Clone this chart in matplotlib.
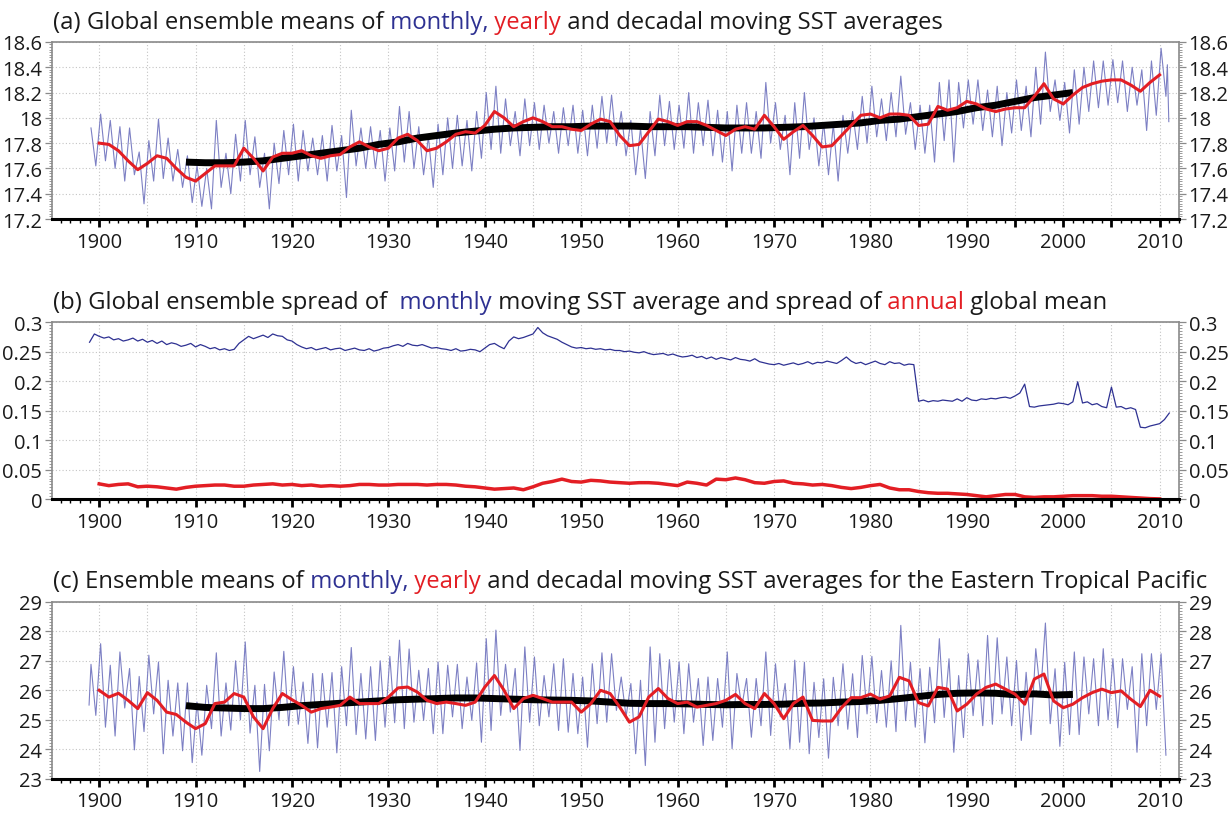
import numpy as np
import matplotlib.pyplot as plt
from matplotlib.ticker import MultipleLocator, FuncFormatter

plt.rcParams["font.family"] = ["Open Sans", "DejaVu Sans"]

# monthly series: one seasonal high (early in the year) and low (late) per year
years = np.arange(1899, 2011)
red_years = np.arange(1900, 2011)
dec_years = np.arange(1909, 2002, 2)

# ---- (a) global SST ----
a_hi = [17.92, 18.03, 17.98, 17.93, 17.92, 17.73, 17.82, 17.99, 17.84, 17.75,   # 1899-1908
        17.70, 17.62, 17.60, 17.98, 17.72, 17.87, 17.98, 17.85, 17.72, 17.80,   # 1909-1918
        17.90, 17.95, 17.90, 17.84, 17.86, 17.94, 17.86, 18.06, 17.92, 17.93,   # 1919-1928
        17.90, 17.92, 18.09, 18.05, 17.93, 17.85, 17.95, 18.00, 18.02, 17.98,   # 1929-1938
        18.05, 18.20, 18.25, 18.15, 18.05, 18.15, 18.12, 18.10, 18.05, 18.08,   # 1939-1948
        18.10, 18.06, 18.10, 18.17, 18.18, 18.05, 17.98, 17.92, 18.05, 18.18,   # 1949-1958
        18.13, 18.10, 18.20, 18.12, 18.14, 18.06, 18.05, 18.10, 18.12, 18.05,   # 1959-1968
        18.28, 18.12, 18.02, 18.12, 18.20, 18.00, 17.96, 17.95, 18.02, 18.05,   # 1969-1978
        18.17, 18.25, 18.15, 18.20, 18.33, 18.12, 18.10, 18.10, 18.28, 18.30,   # 1979-1988
        18.28, 18.30, 18.30, 18.22, 18.25, 18.20, 18.30, 18.25, 18.40, 18.52,   # 1989-1998
        18.30, 18.28, 18.38, 18.40, 18.45, 18.45, 18.46, 18.45, 18.40, 18.38,   # 1999-2008
        18.45, 18.55]                                                            # 2009-2010
a_lo = [17.62, 17.66, 17.60, 17.50, 17.55, 17.32, 17.50, 17.52, 17.50, 17.45,
        17.33, 17.30, 17.28, 17.45, 17.40, 17.50, 17.55, 17.45, 17.28, 17.48,
        17.55, 17.50, 17.58, 17.55, 17.50, 17.58, 17.37, 17.62, 17.60, 17.60,
        17.50, 17.58, 17.65, 17.60, 17.55, 17.45, 17.55, 17.60, 17.62, 17.58,
        17.68, 17.75, 17.72, 17.78, 17.70, 17.78, 17.75, 17.80, 17.72, 17.78,
        17.72, 17.70, 17.76, 17.80, 17.78, 17.70, 17.55, 17.52, 17.70, 17.78,
        17.75, 17.76, 17.72, 17.78, 17.70, 17.65, 17.58, 17.72, 17.72, 17.68,
        17.80, 17.75, 17.55, 17.68, 17.75, 17.62, 17.55, 17.50, 17.72, 17.75,
        17.80, 17.85, 17.82, 17.85, 17.87, 17.75, 17.72, 17.65, 17.82, 17.65,
        17.92, 17.95, 17.90, 17.85, 17.78, 17.88, 17.90, 17.85, 17.95, 18.05,
        17.98, 17.88, 17.95, 18.05, 18.08, 18.10, 18.12, 18.05, 18.10, 17.90,
        18.02, 18.17]
a_tail_t = [2010.8, 2010.95]
a_tail_v = [18.42, 17.97]

a_year = [17.80, 17.79, 17.74, 17.66, 17.59, 17.64, 17.70, 17.68, 17.60, 17.53,  # 1900-1909
          17.50, 17.56, 17.62, 17.62, 17.62, 17.76, 17.68, 17.58, 17.69, 17.72,
          17.72, 17.74, 17.70, 17.68, 17.70, 17.71, 17.77, 17.81, 17.77, 17.74,
          17.76, 17.84, 17.87, 17.82, 17.74, 17.76, 17.81, 17.87, 17.89, 17.88,
          17.94, 18.05, 18.00, 17.93, 17.97, 18.00, 17.97, 17.93, 17.93, 17.91,
          17.90, 17.95, 17.99, 17.97, 17.86, 17.78, 17.79, 17.89, 17.99, 17.97,
          17.94, 17.97, 17.97, 17.94, 17.90, 17.86, 17.91, 17.93, 17.91, 18.02,
          17.93, 17.83, 17.89, 17.94, 17.86, 17.77, 17.78, 17.86, 17.94, 18.02,
          18.03, 18.00, 18.03, 18.03, 18.02, 17.94, 17.95, 18.09, 18.06, 18.08,
          18.13, 18.11, 18.07, 18.05, 18.07, 18.08, 18.08, 18.17, 18.27, 18.15,
          18.11, 18.18, 18.24, 18.27, 18.29, 18.30, 18.30, 18.26, 18.21, 18.28,
          18.34]
a_dec = [17.65, 17.645, 17.645, 17.65, 17.66, 17.68, 17.70, 17.72, 17.74, 17.76,
         17.79, 17.81, 17.84, 17.86, 17.88, 17.895, 17.91, 17.92, 17.925, 17.93,
         17.93, 17.935, 17.935, 17.935, 17.93, 17.93, 17.93, 17.925, 17.92, 17.92,
         17.92, 17.925, 17.93, 17.94, 17.95, 17.96, 17.98, 17.99, 18.01, 18.03,
         18.05, 18.08, 18.10, 18.13, 18.16, 18.18, 18.20]

# ---- (b) ensemble spread ----
b_month = [(0.266, 0.280), (0.276, 0.273), (0.275, 0.270), (0.272, 0.268), (0.270, 0.273),
           (0.268, 0.271), (0.266, 0.269), (0.264, 0.268), (0.262, 0.265), (0.263, 0.259),
           (0.261, 0.264), (0.258, 0.262), (0.259, 0.255), (0.257, 0.253), (0.255, 0.252),
           (0.254, 0.264), (0.270, 0.276), (0.272, 0.275), (0.278, 0.274), (0.280, 0.277),
           (0.276, 0.270), (0.268, 0.262), (0.258, 0.255), (0.257, 0.253), (0.255, 0.257),
           (0.253, 0.255), (0.256, 0.252), (0.254, 0.256), (0.253, 0.252), (0.255, 0.251),
           (0.253, 0.256), (0.257, 0.260), (0.262, 0.259), (0.264, 0.261), (0.260, 0.262),
           (0.259, 0.256), (0.257, 0.255), (0.254, 0.252), (0.255, 0.251), (0.252, 0.254),
           (0.253, 0.250), (0.256, 0.262), (0.264, 0.259), (0.255, 0.268), (0.275, 0.272),
           (0.274, 0.277), (0.280, 0.291), (0.282, 0.277), (0.274, 0.271), (0.266, 0.262),
           (0.258, 0.256), (0.257, 0.255), (0.256, 0.254), (0.255, 0.253), (0.254, 0.252),
           (0.252, 0.250), (0.251, 0.249), (0.248, 0.250), (0.247, 0.245), (0.246, 0.247),
           (0.244, 0.246), (0.243, 0.241), (0.242, 0.244), (0.240, 0.242), (0.238, 0.241),
           (0.237, 0.240), (0.238, 0.236), (0.240, 0.237), (0.236, 0.234), (0.238, 0.233),
           (0.231, 0.229), (0.228, 0.230), (0.227, 0.229), (0.231, 0.228), (0.230, 0.233),
           (0.229, 0.232), (0.231, 0.234), (0.232, 0.230), (0.235, 0.241), (0.234, 0.230),
           (0.232, 0.228), (0.231, 0.234), (0.230, 0.228), (0.233, 0.230), (0.231, 0.227),
           (0.229, 0.228), (0.166, 0.168), (0.165, 0.167), (0.166, 0.168), (0.167, 0.166),
           (0.170, 0.166), (0.172, 0.168), (0.167, 0.170), (0.169, 0.171), (0.170, 0.172),
           (0.173, 0.171), (0.175, 0.180), (0.195, 0.157), (0.156, 0.158), (0.159, 0.160),
           (0.161, 0.163), (0.162, 0.160), (0.165, 0.199), (0.163, 0.165), (0.160, 0.162),
           (0.157, 0.155), (0.190, 0.156), (0.157, 0.153), (0.155, 0.152), (0.122, 0.121),
           (0.124, 0.126), (0.128, 0.135)]
b_last = 0.146

b_year = [0.026, 0.023, 0.025, 0.026, 0.021, 0.022, 0.021, 0.019, 0.017, 0.020,   # 1900-1909
          0.022, 0.023, 0.024, 0.024, 0.022, 0.022, 0.024, 0.025, 0.026, 0.024,
          0.025, 0.023, 0.024, 0.022, 0.023, 0.022, 0.023, 0.025, 0.025, 0.024,
          0.024, 0.025, 0.025, 0.025, 0.024, 0.025, 0.025, 0.024, 0.022, 0.021,
          0.019, 0.017, 0.018, 0.019, 0.016, 0.021, 0.027, 0.030, 0.034, 0.030,
          0.029, 0.032, 0.031, 0.029, 0.028, 0.027, 0.028, 0.028, 0.027, 0.025,
          0.023, 0.029, 0.027, 0.024, 0.034, 0.033, 0.036, 0.033, 0.028, 0.027,
          0.030, 0.031, 0.027, 0.026, 0.024, 0.025, 0.023, 0.020, 0.018, 0.020,
          0.023, 0.025, 0.019, 0.016, 0.016, 0.013, 0.011, 0.010, 0.010, 0.009,
          0.008, 0.006, 0.004, 0.006, 0.008, 0.008, 0.004, 0.003, 0.004, 0.004,
          0.005, 0.006, 0.006, 0.006, 0.005, 0.005, 0.004, 0.003, 0.002, 0.001,
          0.0005]

# ---- (c) Eastern Tropical Pacific ----
c_first = 25.5
c_hi = [26.88, 27.58, 26.85, 27.30, 26.74, 26.47, 27.19, 26.96, 26.34, 26.25,   # 1899-1908
        26.25, 25.60, 26.17, 27.27, 26.25, 27.00, 27.64, 26.17, 26.20, 26.62,
        27.32, 26.80, 26.28, 26.57, 26.57, 26.60, 26.80, 27.45, 26.57, 26.80,
        27.00, 27.15, 27.70, 27.40, 26.68, 26.74, 26.96, 26.85, 26.88, 26.45,
        26.93, 27.75, 28.04, 26.88, 26.74, 27.47, 27.13, 26.50, 26.90, 27.07,
        26.57, 26.45, 26.90, 27.27, 27.24, 26.45, 26.23, 26.34, 27.47, 27.24,
        27.04, 26.96, 26.90, 26.40, 26.45, 26.40, 27.30, 26.57, 26.40, 26.40,
        27.30, 26.90, 26.23, 27.02, 26.95, 26.27, 26.39, 26.44, 26.90, 26.56,
        27.18, 27.15, 26.67, 27.00, 28.20, 26.95, 26.73, 26.78, 27.75, 27.07,
        26.50, 27.24, 27.03, 27.86, 27.78, 27.13, 27.01, 26.61, 27.41, 28.28,
        26.73, 26.95, 27.30, 27.13, 27.07, 27.41, 27.07, 27.07, 26.80, 27.24,
        27.24, 27.24]
c_lo = [25.15, 24.75, 24.45, 25.40, 23.98, 24.60, 25.20, 23.85, 24.45, 23.95,
        23.55, 23.80, 24.70, 24.45, 24.65, 25.00, 24.55, 23.25, 23.95, 25.00,
        24.80, 24.85, 24.20, 24.05, 24.75, 23.88, 24.80, 24.50, 24.35, 24.30,
        24.75, 24.90, 24.70, 24.92, 24.98, 24.53, 24.53, 25.10, 24.70, 24.98,
        24.24, 24.64, 25.15, 25.26, 23.96, 24.92, 24.80, 25.10, 24.64, 24.58,
        24.53, 24.07, 24.87, 24.92, 25.32, 25.10, 23.85, 23.45, 24.24, 24.70,
        24.92, 24.53, 24.92, 24.13, 24.30, 24.75, 24.02, 25.43, 24.41, 24.80,
        24.47, 25.10, 24.02, 24.24, 23.85, 24.40, 23.70, 24.80, 24.68, 24.40,
        25.20, 24.90, 24.75, 24.60, 24.97, 24.75, 24.22, 24.90, 25.08, 23.90,
        24.40, 25.14, 24.80, 24.85, 25.20, 24.80, 24.30, 24.50, 25.85, 24.87,
        24.10, 24.50, 24.50, 25.20, 24.80, 25.00, 24.73, 25.35, 23.90, 24.80,
        25.35, 23.80]

c_year = [26.00, 25.77, 25.90, 25.66, 25.38, 25.92, 25.66, 25.26, 25.18, 24.92,  # 1900-1909
          24.70, 24.87, 25.55, 25.60, 25.89, 25.77, 25.10, 24.70, 25.38, 25.89,
          25.68, 25.49, 25.26, 25.38, 25.43, 25.49, 25.77, 25.55, 25.55, 25.55,
          25.77, 26.08, 26.11, 25.94, 25.66, 25.55, 25.60, 25.55, 25.49, 25.60,
          26.11, 26.50, 26.00, 25.38, 25.72, 25.83, 25.72, 25.60, 25.60, 25.60,
          25.26, 25.55, 26.00, 25.89, 25.43, 24.92, 25.10, 25.77, 26.06, 25.72,
          25.55, 25.60, 25.43, 25.49, 25.55, 25.66, 25.86, 25.55, 25.38, 25.89,
          25.55, 25.04, 25.55, 25.77, 24.98, 24.96, 24.96, 25.41, 25.75, 25.75,
          25.87, 25.70, 25.81, 26.44, 26.32, 25.58, 25.47, 26.10, 26.04, 25.30,
          25.53, 25.87, 26.10, 26.21, 26.04, 25.87, 25.53, 26.38, 26.55, 25.64,
          25.41, 25.53, 25.75, 25.92, 26.04, 25.92, 25.98, 25.70, 25.45, 26.00,
          25.80]
c_dec = [25.48, 25.42, 25.40, 25.38, 25.38, 25.42, 25.48, 25.52, 25.56, 25.60,
         25.64, 25.68, 25.70, 25.72, 25.74, 25.74, 25.72, 25.70, 25.68, 25.67,
         25.66, 25.64, 25.60, 25.56, 25.55, 25.55, 25.54, 25.52, 25.51, 25.52,
         25.52, 25.53, 25.56, 25.57, 25.60, 25.62, 25.66, 25.72, 25.79, 25.86,
         25.90, 25.91, 25.90, 25.85, 25.88, 25.84, 25.86]

LAV = "#7d80c4"
NAVY = "#2e3192"
RED = "#e31e24"
INK = "#1a1a1a"

# monthly time axis
t_seasonal = np.column_stack([years + 0.15, years + 0.65]).ravel()
a_t = np.concatenate([t_seasonal, a_tail_t])
a_v = np.concatenate([np.column_stack([a_hi, a_lo]).ravel(), a_tail_v])
c_t = np.concatenate([[1898.95], t_seasonal])
c_v = np.concatenate([[c_first], np.column_stack([c_hi, c_lo]).ravel()])
b_t = np.concatenate([np.column_stack([years, years + 0.5]).ravel(), [2011.0]])
b_v = np.concatenate([np.array(b_month).ravel(), [b_last]])


def style_axes(ax, ylim, ymajor, yminor):
    ax.set_xlim(1895.1, 2012.0)
    ax.set_ylim(*ylim)
    ax.xaxis.set_major_locator(MultipleLocator(5))
    ax.xaxis.set_minor_locator(MultipleLocator(1))
    ax.xaxis.set_major_formatter(
        FuncFormatter(lambda v, p: "%d" % round(v) if round(v) % 10 == 0 else ""))
    ax.yaxis.set_major_locator(MultipleLocator(ymajor))
    ax.yaxis.set_minor_locator(MultipleLocator(yminor))
    ax.yaxis.set_major_formatter(FuncFormatter(lambda v, p: "%g" % round(v, 3)))
    ax.grid(True, which="major", color="#c4c4c4", linestyle=(0, (1, 2)), linewidth=0.8)
    ax.set_axisbelow(True)
    ax.tick_params(axis="x", which="major", direction="out", length=6, width=2,
                   labelsize=14.5, pad=3, colors="black", labelcolor=INK)
    ax.tick_params(axis="x", which="minor", direction="out", length=3, width=1)
    ax.tick_params(axis="y", which="both", left=True, right=True,
                   labelleft=True, labelright=True, direction="out",
                   color="#8a8a8a", labelcolor=INK, labelsize=14.5, pad=2)
    ax.tick_params(axis="y", which="major", length=5, width=0.9)
    ax.tick_params(axis="y", which="minor", length=2.5, width=0.6)
    for side in ("top", "left", "right"):
        ax.spines[side].set_color("#8a8a8a")
        ax.spines[side].set_linewidth(1.2)
    ax.spines["bottom"].set_linewidth(2.2)


def color_title(ax, parts, size=17.2):
    prev = ax.annotate(parts[0][0], xy=(0, 1), xycoords="axes fraction",
                       xytext=(1, 6), textcoords="offset points",
                       ha="left", va="bottom", color=parts[0][1], fontsize=size)
    for text, col in parts[1:]:
        prev = ax.annotate(text, xy=(1, 0), xycoords=prev,
                           ha="left", va="bottom", color=col, fontsize=size)


fig = plt.figure(figsize=(12.31, 8.2), dpi=100)
L, W, H = 0.0422, 0.9155, 0.2159
ax_a = fig.add_axes([L, 0.7317, W, H])
ax_b = fig.add_axes([L, 0.3900, W, H])
ax_c = fig.add_axes([L, 0.0490, W, H])

# (a)
ax_a.plot(a_t, a_v, color=LAV, lw=0.8)
ax_a.plot(dec_years, a_dec, color="black", lw=5, solid_capstyle="butt")
ax_a.plot(red_years, a_year, color=RED, lw=2.2)
style_axes(ax_a, (17.2, 18.6), 0.2, 0.02)
color_title(ax_a, [("(a) Global ensemble means of", INK), (" monthly,", NAVY),
                   (" yearly", RED), (" and decadal moving SST averages", INK)])

# (b)
ax_b.plot(b_t, b_v, color=NAVY, lw=0.9)
ax_b.plot(red_years, b_year, color=RED, lw=2.5)
style_axes(ax_b, (0, 0.3), 0.05, 0.005)
color_title(ax_b, [("(b) Global ensemble spread of", INK), ("  monthly", NAVY),
                   (" moving SST average and spread of", INK), (" annual", RED),
                   (" global mean", INK)])

# (c)
ax_c.plot(c_t, c_v, color=LAV, lw=0.8)
ax_c.plot(dec_years, c_dec, color="black", lw=5, solid_capstyle="butt")
ax_c.plot(red_years, c_year, color=RED, lw=2.2)
style_axes(ax_c, (23, 29), 1, 0.1)
color_title(ax_c, [("(c) Ensemble means of", INK), (" monthly,", NAVY),
                   (" yearly", RED),
                   (" and decadal moving SST averages for the Eastern Tropical Pacific", INK)])

fig.savefig("out.png", dpi=100)
